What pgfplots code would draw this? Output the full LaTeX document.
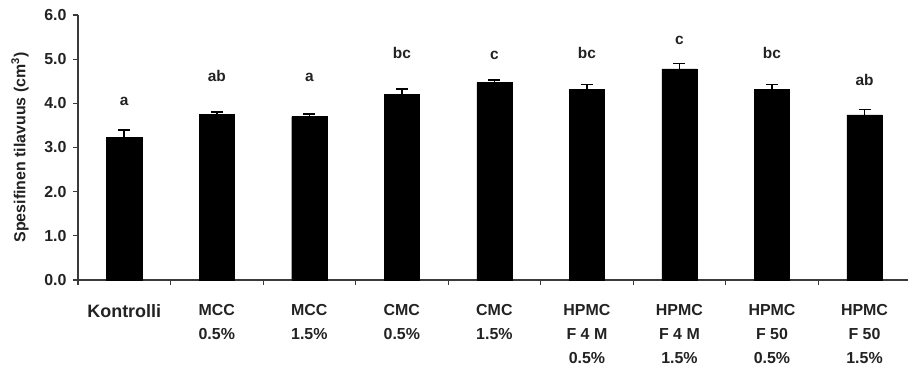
\documentclass[border=0pt]{standalone}
\usepackage{pgfplots}
\pgfplotsset{compat=1.18}
\usepackage{fontspec}
\setmainfont{Liberation Sans}
\definecolor{txt}{HTML}{222222}
\definecolor{axl}{HTML}{3A3A3A}
\begin{document}
\begin{tikzpicture}
\begin{axis}[
  name=ax,
  scale only axis,
  width=830bp, height=265bp,
  xmin=-0.5, xmax=8.47,
  ymin=0, ymax=6,
  axis lines=left,
  axis line style={-, axl, line width=1.1pt},
  every tick/.style={axl, line width=1.1pt},
  tick align=outside,
  major tick length=5bp,
  ytick={0,1,2,3,4,5,6},
  xtick={-0.5,0.5,1.5,2.5,3.5,4.5,5.5,6.5,7.5},
  xticklabels={},
  /pgf/number format/assume math mode=true,
  y tick label style={font=\fontsize{16}{18}\selectfont\bfseries, text=txt, xshift=-3bp,
    /pgf/number format/.cd, fixed, fixed zerofill, precision=1},
  extra x ticks={0,1,2,3,4,5,6,7,8},
  extra x tick labels={{\fontsize{18}{24}\selectfont Kontrolli},{MCC\\0.5\%},{MCC\\1.5\%},{CMC\\0.5\%},{CMC\\1.5\%},{HPMC\\F 4 M\\0.5\%},{HPMC\\F 4 M\\1.5\%},{HPMC\\F 50\\0.5\%},{HPMC\\F 50\\1.5\%}},
  extra x tick style={major tick length=0pt,
    tick label style={font=\fontsize{16}{24}\selectfont\bfseries, text=txt, align=center, anchor=north, yshift=-21bp}},
  ylabel={Spesifinen tilavuus (cm$^{\mathbf 3}$)},
  y label style={at={(axis description cs:-0.0699,0.5)}, anchor=center, font=\fontsize{16}{18}\selectfont\bfseries, text=txt},
  clip=false,
]
\addplot[ybar, bar width=0.38, fill=black, draw=black,
  error bars/.cd, y dir=plus, y explicit,
  error bar style={black, line width=1.6pt},
  error mark options={black, mark size=6bp, line width=1.6pt, rotate=90}]
  table[x=x, y=y, y error=e] {
x y e
0 3.23 0.16
1 3.75 0.06
2 3.70 0.06
3 4.21 0.11
4 4.47 0.06
5 4.31 0.12
6 4.78 0.12
7 4.31 0.12
8 3.74 0.12
};
\addplot[draw=none, mark=none, forget plot,
  nodes near coords, point meta=explicit symbolic,
  every node near coord/.append style={anchor=base, inner sep=0pt, font=\fontsize{15.5}{17}\selectfont\bfseries, text=txt}]
  table[x=x, y=y, meta=l] {
x y l
0 3.94 a
1 4.49 ab
2 4.49 a
3 5.02 bc
4 5.00 c
5 5.02 bc
6 5.34 c
7 5.02 bc
8 4.41 ab
};
\end{axis}
\pgfresetboundingbox
\path ([xshift=-78bp,yshift=-85bp]ax.south west) rectangle ([yshift=15bp]ax.north east);
\end{tikzpicture}
\end{document}
